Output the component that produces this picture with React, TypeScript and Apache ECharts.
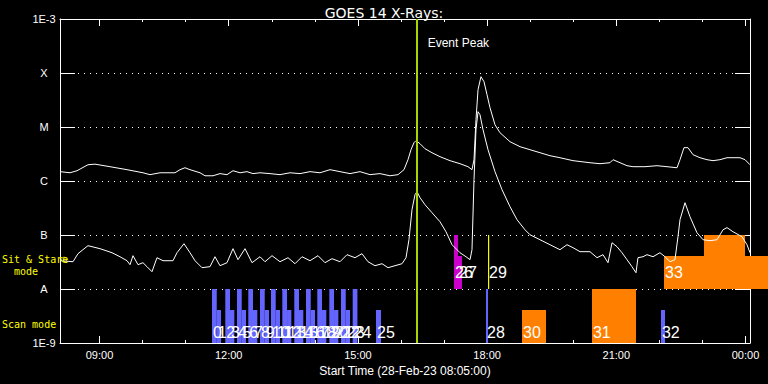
import React, { useEffect, useRef } from "react";
import * as echarts from "echarts";

// ---------- texts ----------
const chartTitle = "GOES 14 X-Rays:";
const xAxisTitle = "Start Time (28-Feb-23 08:05:00)";
const eventLabel = "Event Peak";
const sitStareLabel = ["Sit & Stare", "mode"];
const scanLabel = "Scan mode";

// ---------- axes (time in hours UT from 28-Feb-23 00:00) ----------
const timeStart = 8.0833;
const timeEnd = 24.104;
const majorHours = [9, 12, 15, 18, 21, 24];
const minorHours = [9, 10, 11, 12, 13, 14, 15, 16, 17, 18, 19, 20, 21, 22, 23, 24];
const fluxTicks = [1e-9, 1e-8, 1e-7, 1e-6, 1e-5, 1e-4, 1e-3];
const fluxTickLabels = ["1E-9", "A", "B", "C", "M", "X", "1E-3"];
const eventPeakHour = 16.365;
const startMarker: [number, number] = [8.176, 3.49e-8];

// ---------- GOES flux, 1-8 A (upper curve) ----------
const longChannel: [number, number][] = [
  [8.083, 1.49e-6], [8.316, 1.42e-6], [8.478, 1.55e-6], [8.733, 2.0e-6], [8.896, 2.05e-6],
  [9.244, 1.84e-6], [9.639, 1.62e-6], [10.01, 1.42e-6], [10.173, 1.31e-6], [10.405, 1.42e-6],
  [10.753, 1.42e-6], [10.87, 1.62e-6], [10.985, 1.76e-6], [11.102, 1.62e-6], [11.334, 1.42e-6],
  [11.45, 1.25e-6], [11.636, 1.25e-6], [11.798, 1.37e-6], [11.961, 1.31e-6], [12.1, 1.55e-6],
  [12.263, 1.42e-6], [12.425, 1.49e-6], [12.564, 1.37e-6], [12.727, 1.42e-6], [12.959, 1.37e-6],
  [13.191, 1.31e-6], [13.424, 1.42e-6], [13.656, 1.37e-6], [13.888, 1.49e-6], [14.12, 1.42e-6],
  [14.352, 1.62e-6], [14.584, 1.49e-6], [14.817, 1.37e-6], [15.049, 1.49e-6], [15.281, 1.31e-6],
  [15.513, 1.37e-6], [15.745, 1.25e-6], [15.931, 1.31e-6], [16.07, 1.62e-6], [16.163, 2.48e-6],
  [16.233, 3.8e-6], [16.302, 5.12e-6], [16.349, 5.58e-6], [16.442, 4.91e-6], [16.558, 3.96e-6],
  [16.72, 3.34e-6], [16.906, 2.82e-6], [17.138, 2.38e-6], [17.371, 2.09e-6], [17.556, 1.84e-6],
  [17.649, 1.62e-6], [17.696, 2.48e-6], [17.742, 1.37e-5], [17.789, 4.91e-5], [17.858, 8.54e-5],
  [17.928, 6.9e-5], [17.998, 3.96e-5], [18.067, 2.28e-5], [18.183, 1.1e-5], [18.299, 7.84e-6],
  [18.532, 5.34e-6], [18.764, 4.32e-6], [18.996, 3.8e-6], [19.228, 3.34e-6], [19.46, 2.94e-6],
  [19.692, 2.7e-6], [19.994, 2.38e-6], [20.389, 2.18e-6], [20.621, 2.09e-6], [20.853, 2.18e-6],
  [20.923, 2.48e-6], [21.086, 2.18e-6], [21.248, 1.92e-6], [21.387, 1.84e-6], [21.666, 1.84e-6],
  [21.945, 1.92e-6], [22.177, 1.84e-6], [22.409, 1.76e-6], [22.479, 2.48e-6], [22.571, 4.14e-6],
  [22.664, 4.14e-6], [22.781, 3.07e-6], [22.943, 2.7e-6], [23.106, 2.48e-6], [23.245, 2.38e-6],
  [23.407, 2.48e-6], [23.57, 2.7e-6], [23.872, 2.7e-6], [23.988, 2.48e-6], [24.104, 2.0e-6],
];

// ---------- GOES flux, 0.5-4 A (lower curve) ----------
const shortChannel: [number, number][] = [
  [8.083, 3.34e-8], [8.385, 3.2e-8], [8.501, 4.51e-8], [8.733, 6.34e-8], [9.012, 5.58e-8],
  [9.291, 4.7e-8], [9.476, 3.96e-8], [9.639, 3.34e-8], [9.709, 2.82e-8], [9.778, 4.14e-8],
  [9.894, 2.82e-8], [10.01, 3.07e-8], [10.103, 2.59e-8], [10.219, 2.09e-8], [10.335, 3.8e-8],
  [10.475, 3.34e-8], [10.707, 3.34e-8], [10.8, 4.7e-8], [10.962, 6.9e-8], [11.102, 4.7e-8],
  [11.218, 3.34e-8], [11.38, 2.48e-8], [11.566, 2.59e-8], [11.682, 3.96e-8], [11.798, 2.7e-8],
  [11.961, 3.07e-8], [12.1, 5.58e-8], [12.216, 3.49e-8], [12.379, 5.58e-8], [12.541, 3.07e-8],
  [12.727, 3.96e-8], [12.843, 3.2e-8], [13.006, 4.14e-8], [13.191, 3.2e-8], [13.377, 3.8e-8],
  [13.54, 2.94e-8], [13.702, 3.96e-8], [13.888, 3.34e-8], [14.074, 4.14e-8], [14.236, 3.07e-8],
  [14.399, 3.64e-8], [14.584, 3.2e-8], [14.747, 4.32e-8], [14.933, 3.8e-8], [15.095, 4.51e-8],
  [15.234, 3.2e-8], [15.397, 2.7e-8], [15.56, 2.94e-8], [15.699, 2.48e-8], [15.861, 2.7e-8],
  [16.024, 2.94e-8], [16.117, 3.8e-8], [16.186, 8.18e-8], [16.256, 2.94e-7], [16.326, 5.58e-7],
  [16.372, 6.34e-7], [16.442, 4.91e-7], [16.558, 3.64e-7], [16.72, 2.59e-7], [16.906, 1.76e-7],
  [17.045, 1.15e-7], [17.185, 6.61e-8], [17.371, 4.7e-8], [17.51, 3.96e-8], [17.603, 3.49e-8],
  [17.649, 5.34e-8], [17.696, 1.06e-6], [17.742, 8.91e-6], [17.789, 1.92e-5], [17.835, 1.69e-5],
  [17.905, 8.91e-6], [18.021, 3.8e-6], [18.183, 1.49e-6], [18.346, 6.9e-7], [18.532, 3.34e-7],
  [18.694, 1.92e-7], [18.88, 1.25e-7], [18.996, 1.01e-7], [19.228, 8.18e-8], [19.46, 6.61e-8],
  [19.692, 5.34e-8], [19.855, 6.61e-8], [19.994, 5.82e-8], [20.157, 4.91e-8], [20.389, 4.91e-8],
  [20.552, 3.8e-8], [20.691, 4.32e-8], [20.807, 3.07e-8], [20.9, 7.2e-8], [21.016, 6.07e-8],
  [21.132, 4.7e-8], [21.248, 3.49e-8], [21.364, 2.59e-8], [21.457, 2.0e-8], [21.503, 3.8e-8],
  [21.62, 3.96e-8], [21.712, 4.32e-8], [21.852, 3.96e-8], [22.014, 4.7e-8], [22.13, 3.96e-8],
  [22.246, 3.2e-8], [22.362, 3.49e-8], [22.432, 9.3e-8], [22.479, 1.92e-7], [22.595, 3.96e-7],
  [22.711, 2.18e-7], [22.873, 1.1e-7], [23.013, 8.18e-8], [23.175, 7.84e-8], [23.338, 8.18e-8],
  [23.477, 1.25e-7], [23.57, 1.37e-7], [23.709, 1.15e-7], [23.918, 9.3e-8], [24.034, 6.61e-8],
  [24.104, 4.7e-8],
];

// ---------- observations (numbered blocks) ----------
const obsLabels = [
  "0", "1", "2", "3", "4", "5", "6", "7", "8", "9", "10", "11", "12", "13", "14", "15", "16",
  "17", "18", "19", "20", "21", "22", "23", "24", "25", "26", "27", "28", "29", "30", "31",
  "32", "33", "",
];
const obsStart = [
  11.613, 11.723, 11.921, 12.031, 12.193, 12.303, 12.455, 12.565, 12.727, 12.837, 12.982,
  13.092, 13.245, 13.355, 13.523, 13.633, 13.795, 13.905, 14.057, 14.167, 14.336, 14.446,
  14.608, 14.718, 14.879, 15.42, 17.231, 17.324, 17.974, 18.021, 18.81, 20.435, 22.037,
  22.107, 23.036,
];
const obsEnd = [
  11.723, 11.823, 12.031, 12.131, 12.303, 12.403, 12.565, 12.665, 12.837, 12.937, 13.092,
  13.192, 13.355, 13.455, 13.633, 13.733, 13.905, 14.005, 14.167, 14.267, 14.446, 14.546,
  14.718, 14.818, 14.989, 15.536, 17.324, 17.417, 18.021, 18.021, 19.367, 21.457, 22.13,
  24.522, 23.988,
];
const obsMode = [
  "scan", "scan", "scan", "scan", "scan", "scan", "scan", "scan", "scan", "scan", "scan",
  "scan", "scan", "scan", "scan", "scan", "scan", "scan", "scan", "scan", "scan", "scan",
  "scan", "scan", "scan", "scan", "sas", "sas", "scan", "sas", "scan", "scan", "scan",
  "sas", "sas",
];
const obsLow = [
  1e-9, 1e-9, 1e-9, 1e-9, 1e-9, 1e-9, 1e-9, 1e-9, 1e-9, 1e-9, 1e-9, 1e-9, 1e-9, 1e-9,
  1e-9, 1e-9, 1e-9, 1e-9, 1e-9, 1e-9, 1e-9, 1e-9, 1e-9, 1e-9, 1e-9, 1e-9, 1e-8, 1e-8,
  1e-9, 1e-8, 1e-9, 1e-9, 1e-9, 1e-8, 1e-8,
];
const obsHigh = [
  1e-8, 4.08e-9, 1e-8, 4.08e-9, 1e-8, 4.08e-9, 1e-8, 4.08e-9, 1e-8, 4.08e-9, 1e-8,
  4.08e-9, 1e-8, 4.08e-9, 1e-8, 4.08e-9, 1e-8, 4.08e-9, 1e-8, 4.08e-9, 1e-8, 4.08e-9,
  1e-8, 4.08e-9, 1e-8, 4.08e-9, 1e-7, 4.08e-8, 1e-8, 1e-7, 4.08e-9, 1e-8, 4.08e-9,
  4.08e-8, 1e-7,
];
const obsInstrument = [
  "A", "A", "A", "A", "A", "A", "A", "A", "A", "A", "A", "A", "A", "A", "A", "A", "A", "A",
  "A", "A", "A", "A", "A", "A", "A", "A", "B", "B", "A", "C", "D", "D", "A", "D", "D",
];

// ---------- styles ----------
const instrumentColor: Record<string, string> = {
  A: "#6464ff",
  B: "#cc00cc",
  C: "#ffff00",
  D: "#ff8000",
};
const bandBottom: Record<string, number> = { scan: 1e-9, sas: 1e-8 };
const labelLift: Record<string, number> = { scan: 10.5, sas: 16.5 };
const FONT = "Liberation Sans";
const MONO = "DejaVu Sans Mono";

export default function App() {
  const ref = useRef<HTMLDivElement>(null);

  useEffect(() => {
    if (!ref.current) return;
    const chart = echarts.init(ref.current, undefined, { renderer: "svg" });

    const obsData = obsStart.map((s, i) => ({
      value: [s, obsEnd[i], obsLow[i], obsHigh[i]],
      itemStyle: { color: instrumentColor[obsInstrument[i]] },
    }));

    const hourFmt = (v: number) => {
      const h = Math.round(v) % 24;
      return (h < 10 ? "0" : "") + h + ":00";
    };
    const fluxFmt = (v: number) => {
      const e = Math.round(Math.log10(v));
      const i = fluxTicks.findIndex((t) => Math.round(Math.log10(t)) === e);
      return i >= 0 ? fluxTickLabels[i] : "";
    };

    const white = "#ffffff";
    const baseX = {
      type: "value" as const,
      min: timeStart,
      max: timeEnd,
      splitLine: { show: false },
    };

    const option: any = {
      animation: false,
      backgroundColor: "#000000",
      title: {
        text: chartTitle,
        left: "center",
        top: 1,
        textStyle: { color: white, fontSize: 14, fontWeight: "normal", fontFamily: "DejaVu Sans" },
      },
      grid: { left: 60, right: 18, top: 19, bottom: 41, containLabel: false, outerBoundsMode: "none" },
      xAxis: [
        {
          ...baseX,
          position: "bottom",
          axisLine: { show: true, lineStyle: { color: white, width: 1 } },
          axisTick: { show: true, inside: true, length: 7, customValues: majorHours, lineStyle: { color: white } },
          axisLabel: {
            show: true,
            customValues: majorHours,
            formatter: hourFmt,
            color: white,
            fontSize: 11,
            fontFamily: FONT,
            margin: 6,
          },
          name: xAxisTitle,
          nameLocation: "middle",
          nameGap: 18,
          nameTextStyle: { color: white, fontSize: 12, fontFamily: FONT },
        },
        {
          ...baseX,
          position: "bottom",
          axisLine: { show: false },
          axisTick: { show: true, inside: true, length: 3, customValues: minorHours, lineStyle: { color: white } },
          axisLabel: { show: false },
        },
        {
          ...baseX,
          position: "top",
          axisLine: { show: true, lineStyle: { color: white, width: 1 } },
          axisTick: { show: true, inside: true, length: 7, customValues: majorHours, lineStyle: { color: white } },
          axisLabel: { show: false },
        },
        {
          ...baseX,
          position: "top",
          axisLine: { show: false },
          axisTick: { show: true, inside: true, length: 3, customValues: minorHours, lineStyle: { color: white } },
          axisLabel: { show: false },
        },
      ],
      yAxis: [
        {
          type: "log",
          logBase: 10,
          min: 1e-9,
          max: 1e-3,
          position: "left",
          axisLine: { show: true, lineStyle: { color: white, width: 1 } },
          axisTick: { show: true, inside: true, length: 15, lineStyle: { color: white } },
          axisLabel: {
            show: true,
            formatter: fluxFmt,
            color: white,
            fontSize: 11,
            fontFamily: FONT,
            align: "center",
            margin: 16,
          },
          splitLine: { show: true, lineStyle: { color: white, width: 1, type: [1, 5] } },
          minorTick: { show: false },
        },
        {
          type: "log",
          logBase: 10,
          min: 1e-9,
          max: 1e-3,
          position: "right",
          axisLine: { show: true, lineStyle: { color: white, width: 1 } },
          axisTick: { show: true, inside: true, length: 15, lineStyle: { color: white } },
          axisLabel: { show: false },
          splitLine: { show: false },
        },
      ],
      series: [
        {
          type: "custom",
          name: "observations",
          xAxisIndex: 0,
          yAxisIndex: 0,
          clip: false,
          z: 1,
          encode: { x: [0, 1], y: [2, 3] },
          data: obsData,
          renderItem: (params: any, api: any) => {
            const p0 = api.coord([api.value(0), api.value(3)]);
            const p1 = api.coord([api.value(1), api.value(2)]);
            const w = Math.max(p1[0] - p0[0], 1.2);
            return {
              type: "rect",
              shape: { x: p0[0], y: p0[1], width: w, height: p1[1] - p0[1] },
              style: { fill: api.visual("color") },
            };
          },
        },
        {
          type: "custom",
          name: "observation labels",
          xAxisIndex: 0,
          yAxisIndex: 0,
          clip: false,
          z: 5,
          encode: { x: [0, 1], y: [2, 3] },
          data: obsData,
          renderItem: (params: any, api: any) => {
            const i = params.dataIndex;
            const mode = obsMode[i];
            const p = api.coord([api.value(0), bandBottom[mode]]);
            return {
              type: "text",
              style: {
                text: obsLabels[i],
                x: p[0] + 1,
                y: p[1] - labelLift[mode],
                fill: white,
                font: `16px "${FONT}"`,
                align: "left",
                verticalAlign: "middle",
              },
            };
          },
        },
        {
          type: "line",
          name: "1-8 A",
          data: longChannel,
          symbol: "none",
          z: 3,
          lineStyle: { color: white, width: 1 },
          markLine: {
            silent: true,
            symbol: ["none", "none"],
            label: { show: false },
            lineStyle: { color: "#a8d400", width: 2, type: "solid" },
            data: [{ xAxis: eventPeakHour }],
          },
        },
        {
          type: "line",
          name: "0.5-4 A",
          data: shortChannel,
          symbol: "none",
          z: 3,
          lineStyle: { color: white, width: 1 },
        },
        {
          type: "scatter",
          name: "start",
          data: [startMarker],
          symbol: "circle",
          symbolSize: 5,
          z: 4,
          itemStyle: { color: "rgba(0,0,0,0)", borderColor: "#ffff00", borderWidth: 1 },
        },
      ],
    };

    chart.setOption(option);

    const peakX = chart.convertToPixel({ xAxisIndex: 0 }, eventPeakHour) as number;
    const yellowText = { fill: "#ffff00", font: `10px "${MONO}"`, verticalAlign: "middle" };
    chart.setOption({
      graphic: [
        { type: "text", x: 2, y: 259, z: 10, style: { text: sitStareLabel[0], ...yellowText } },
        { type: "text", x: 14, y: 271, z: 10, style: { text: sitStareLabel[1], ...yellowText } },
        { type: "text", x: 2, y: 324, z: 10, style: { text: scanLabel, ...yellowText } },
        {
          type: "text",
          x: peakX + 11,
          y: 43,
          z: 10,
          style: { text: eventLabel, fill: white, font: `12px "${FONT}"`, verticalAlign: "middle" },
        },
      ],
    });

    return () => chart.dispose();
  }, []);

  return (
    <div
      ref={ref}
      style={{ position: "fixed", left: 0, top: 0, width: 768, height: 384, background: "#000" }}
    />
  );
}
